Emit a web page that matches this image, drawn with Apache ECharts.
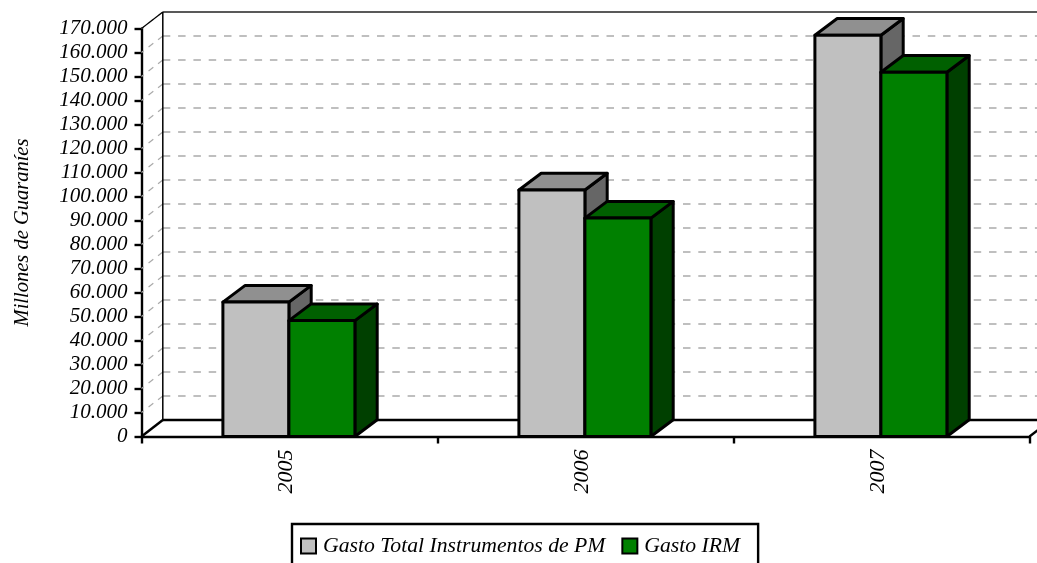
<!DOCTYPE html>
<html><head><meta charset="utf-8">
<style>html,body{margin:0;padding:0;background:#fff}#c{width:1037px;height:563px}</style>
<script src="https://cdn.jsdelivr.net/npm/echarts@6/dist/echarts.min.js"></script>
</head><body><div id="c"></div>
<script>
const categories = ['2005', '2006', '2007'];
const gastoTotal = [56000, 102700, 167200];
const gastoIRM = [48300, 91000, 151800];
const yTicks = [0,10000,20000,30000,40000,50000,60000,70000,80000,90000,100000,110000,120000,130000,140000,150000,160000,170000];
const nameTotal = 'Gasto Total Instrumentos de PM';
const nameIRM = 'Gasto IRM';
const yName = 'Millones de Guaraníes';

const FONT = '"Liberation Serif"';
const DX = 21.3, DY = -16.5, BAR_DX = 22.3, BAR_DY = -16.7, BAR_FRAC = 66 / 296, BAR_SHIFT = -0.6;
const chart = echarts.init(document.getElementById('c'), null, {renderer: 'canvas'});

function barRender(offsetSign, face, top, side) {
  return function (params, api) {
    const base = api.coord([api.value(0), 0]);
    const head = api.coord([api.value(0), api.value(1)]);
    const w = api.size([1, 0])[0] * BAR_FRAC;
    const x0 = base[0] + BAR_SHIFT + (offsetSign < 0 ? -w : 0), x1 = x0 + w;
    const yb = base[1], yt = head[1];
    const style = f => ({fill: f, stroke: '#000', lineWidth: 3, lineJoin: 'round'});
    const poly = (pts, f) => ({type: 'polygon', shape: {points: pts}, style: style(f)});
    return {type: 'group', children: [
      poly([[x1, yb], [x1 + BAR_DX, yb + BAR_DY], [x1 + BAR_DX, yt + BAR_DY], [x1, yt]], side),
      poly([[x0, yt], [x0 + BAR_DX, yt + BAR_DY], [x1 + BAR_DX, yt + BAR_DY], [x1, yt]], top),
      poly([[x0, yb], [x0, yt], [x1, yt], [x1, yb]], face)
    ]};
  };
}

function wallRender(params, api) {
  const v = api.value(0);
  const p = api.coord([0, v]);
  const x = p[0] - api.size([1, 0])[0] / 2, y = p[1];
  const right = 1060;
  const dash = {stroke: '#aaaaaa', lineWidth: 1.4, lineDash: [7.5, 7.8]};
  const solid = {stroke: '#000', lineWidth: 2.4};
  const thin = {stroke: '#000', lineWidth: 1.2};
  const ch = [];
  const line = (a, b, c, d, st) => ch.push({type: 'line', shape: {x1: a, y1: b, x2: c, y2: d}, style: st});
  if (v === 0) {
    line(x + DX, y + DY, right, y + DY, solid);
    line(x, y, x + DX, y + DY, solid);
    const xr = x + api.size([1, 0])[0] * categories.length;
    line(xr, y, xr + DX, y + DY, solid);
  } else {
    line(x + DX, y + DY, x, y, {stroke: '#aaaaaa', lineWidth: 1.2, lineDash: [6, 6]});
    if (v === yTicks[yTicks.length - 1]) {
      line(x + DX, y + DY, right, y + DY, {stroke: '#222', lineWidth: 1.4});
      line(x, y, x + DX, y + DY, thin);
      const bottom = api.coord([0, 0])[1] + DY;
      line(x + DX, y + DY, x + DX, bottom, {stroke: '#000', lineWidth: 1.5});
    } else {
      line(x + DX, y + DY, right, y + DY, dash);
    }
  }
  return {type: 'group', children: ch};
}

chart.setOption({
  animation: false,
  backgroundColor: '#fff',
  textStyle: {fontFamily: FONT, fontStyle: 'italic', color: '#000'},
  grid: {left: 141.5, top: 28.5, width: 888, height: 408, containLabel: false},
  legend: {
    left: 292, top: 524, orient: 'horizontal',
    data: [nameTotal, nameIRM],
    itemWidth: 15, itemHeight: 15, itemGap: 16, icon: 'rect',
    padding: [11, 18, 30, 8],
    borderColor: '#000', borderWidth: 2.4,
    textStyle: {fontFamily: FONT, fontStyle: 'italic', fontSize: 21.7, color: '#000', padding: [0, 0, 0, 2]}
  },
  xAxis: {
    type: 'category', data: categories,
    axisLine: {show: true, lineStyle: {color: '#000', width: 2.4}},
    axisTick: {show: true, length: 7, lineStyle: {color: '#000', width: 2.4}},
    axisLabel: {
      rotate: 90, margin: 13, color: '#000',
      formatter: '{a|{value}}',
      rich: {a: {fontFamily: FONT, fontStyle: 'italic', fontSize: 22, color: '#000', padding: [0, 0, 7, 0]}}
    },
    splitLine: {show: false}
  },
  yAxis: {
    type: 'value', min: 0, max: 170000, interval: 10000,
    name: yName, nameLocation: 'middle', nameGap: 109, nameRotate: 90,
    nameTextStyle: {fontFamily: FONT, fontStyle: 'italic', fontSize: 20.5, color: '#000'},
    axisLine: {show: true, lineStyle: {color: '#000', width: 2.4}},
    axisTick: {show: true, length: 7, lineStyle: {color: '#000', width: 2.4}},
    axisLabel: {
      margin: 14, fontFamily: FONT, fontStyle: 'italic', fontSize: 21, color: '#000',
      formatter: v => String(v).replace(/\B(?=(\d{3})+$)/g, '.')
    },
    splitLine: {show: false}
  },
  series: [
    {type: 'custom', name: 'wall', silent: true, clip: false, z: 1,
     renderItem: wallRender, data: yTicks.map(v => [v]), encode: {y: 0}},
    {type: 'custom', name: nameTotal, clip: false, z: 2,
     itemStyle: {color: '#c0c0c0', borderColor: '#000', borderWidth: 2.4},
     renderItem: barRender(-1, '#c0c0c0', '#909090', '#666666'),
     data: categories.map((c, i) => [i, gastoTotal[i]]), encode: {x: 0, y: 1}},
    {type: 'custom', name: nameIRM, clip: false, z: 3,
     itemStyle: {color: '#008000', borderColor: '#000', borderWidth: 2.4},
     renderItem: barRender(1, '#008000', '#006000', '#004000'),
     data: categories.map((c, i) => [i, gastoIRM[i]]), encode: {x: 0, y: 1}}
  ]
});
</script></body></html>
